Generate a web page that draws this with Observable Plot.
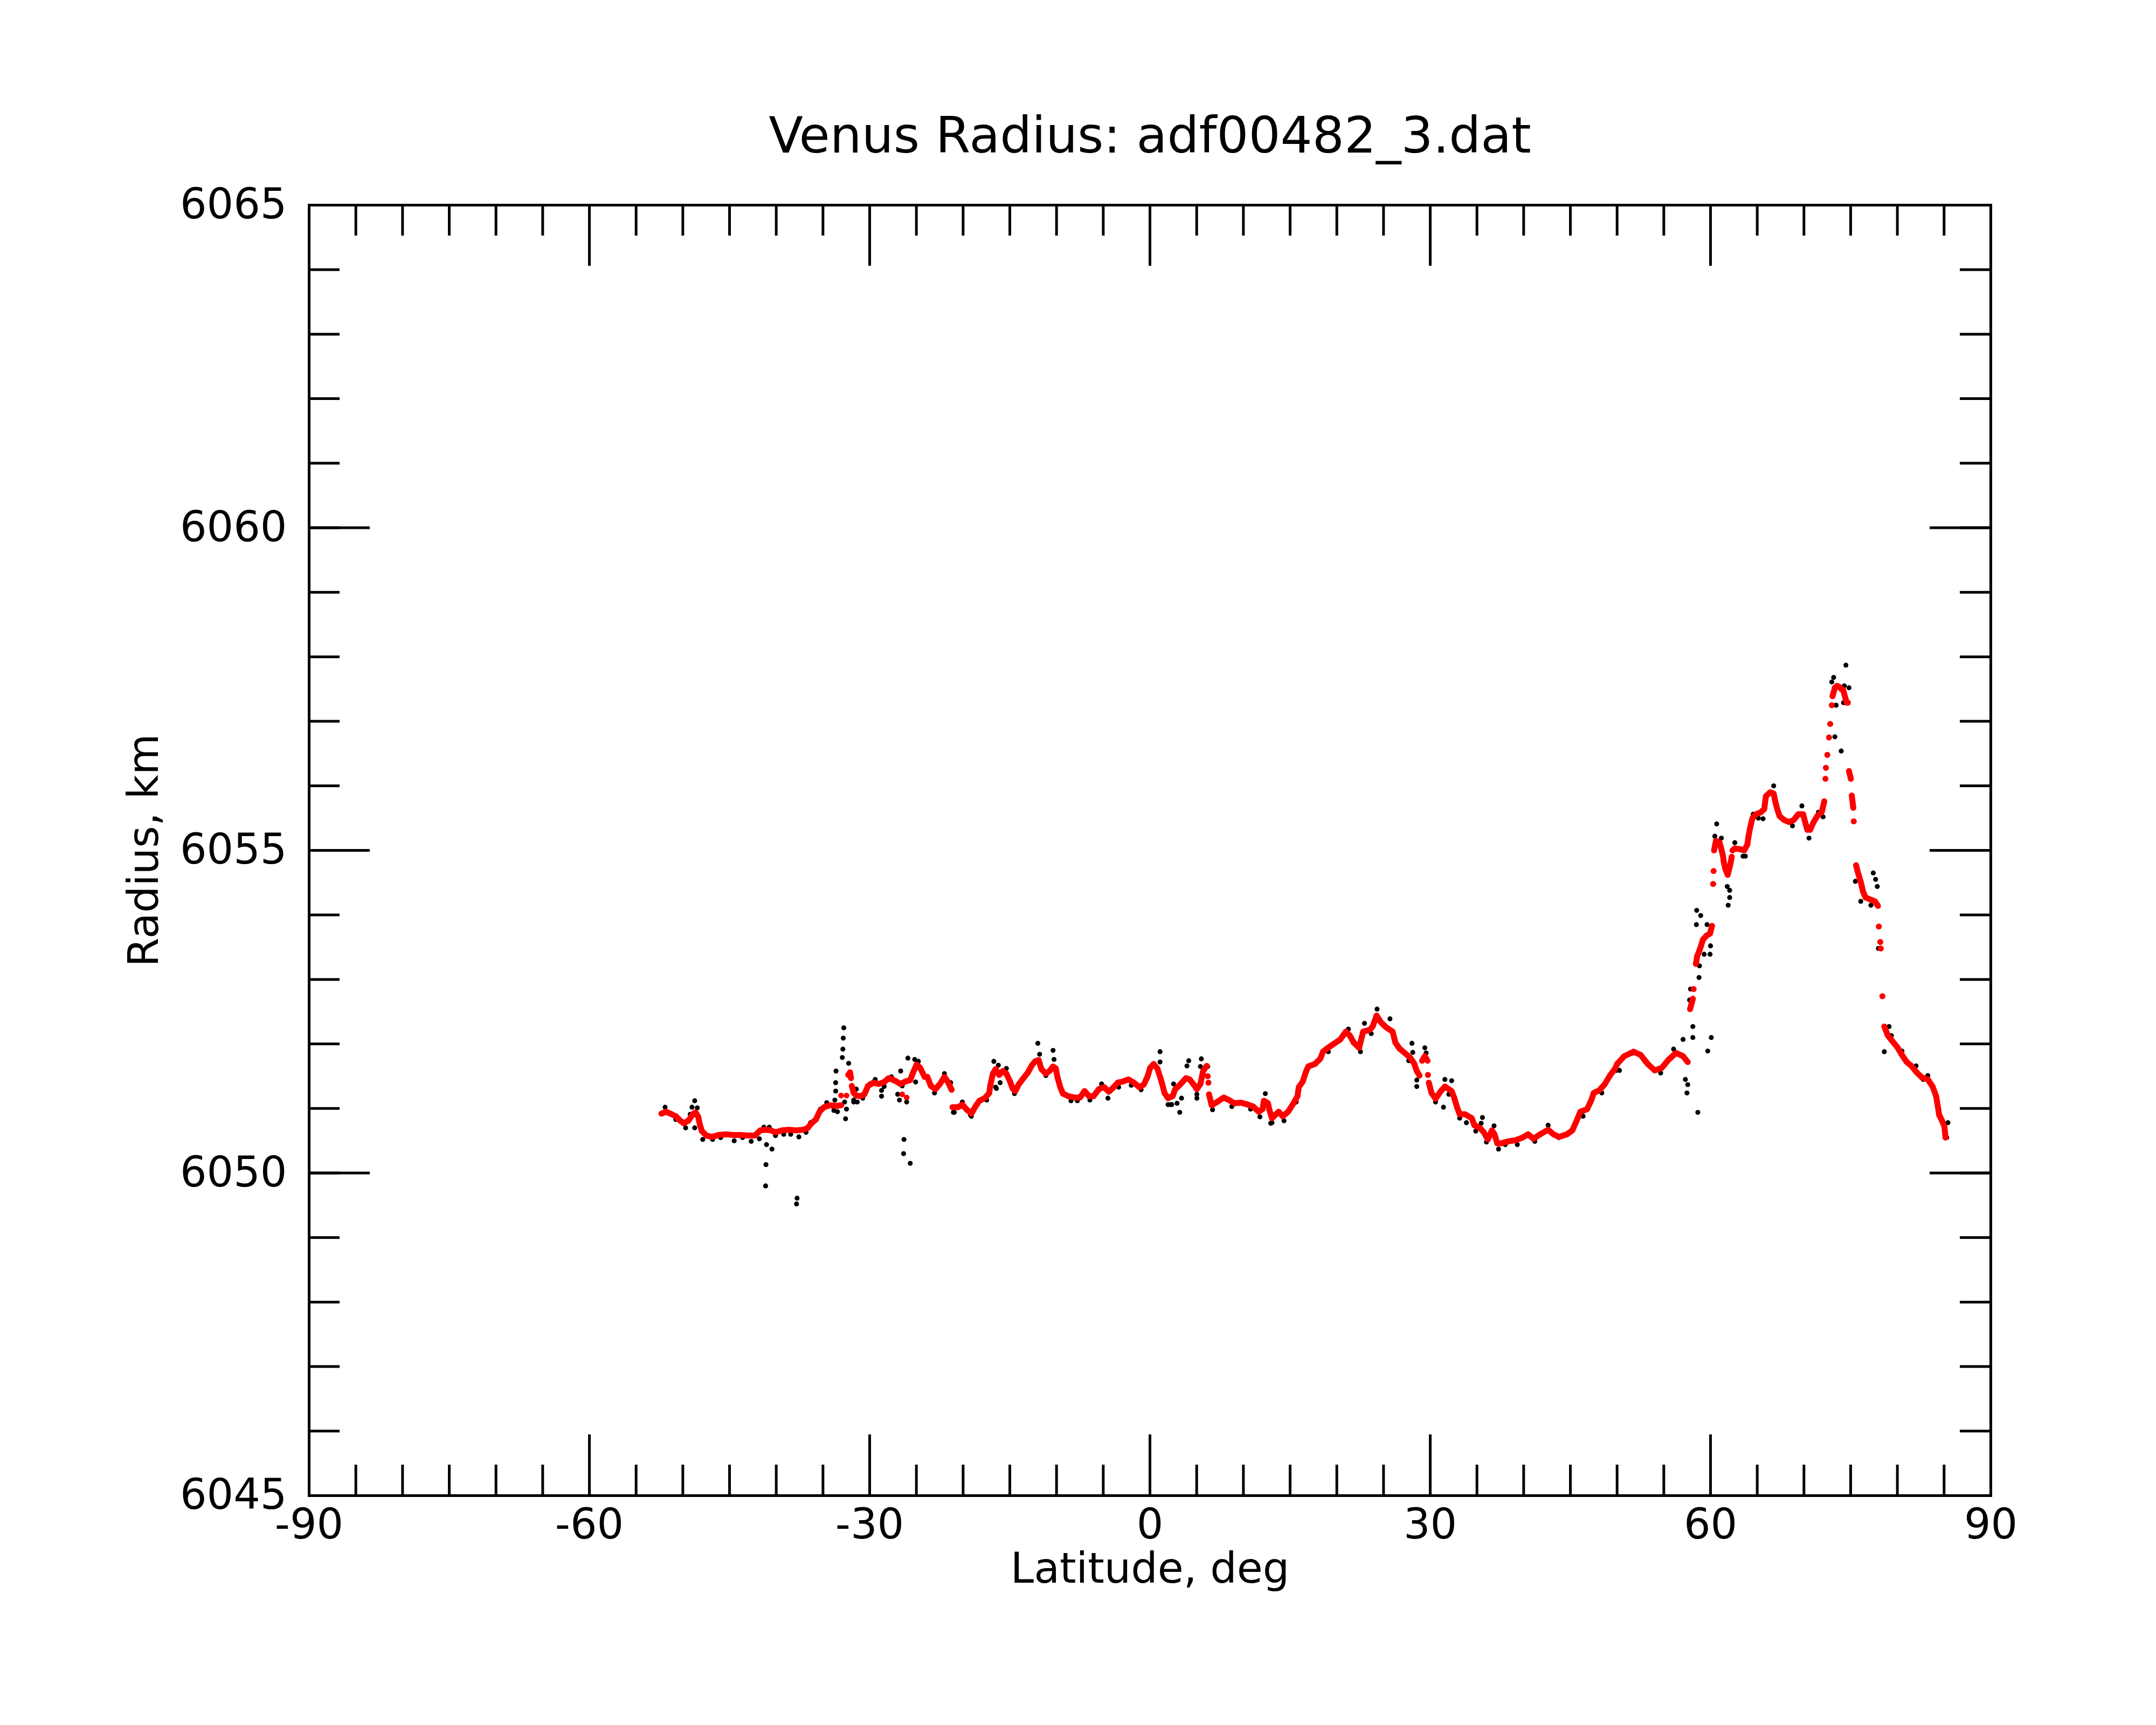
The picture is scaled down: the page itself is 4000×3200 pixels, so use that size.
<!DOCTYPE html>
<html>
<head>
<meta charset="utf-8">
<script src="https://cdn.jsdelivr.net/npm/d3@7"></script>
<script src="https://cdn.jsdelivr.net/npm/@observablehq/plot@0.6"></script>
<style>
  html, body { margin: 0; padding: 0; background: #ffffff; }
  #chart svg { display: block; }
</style>
</head>
<body>
<div id="chart"></div>
<script>
// ---------- texts & ticks ----------
const titleText = "Venus Radius: adf00482_3.dat";
const xLabelText = "Latitude, deg";
const yLabelText = "Radius, km";
const xDomain = [-90, 90];
const yDomain = [6045, 6065];
const xMajorTicks = [-90, -60, -30, 0, 30, 60, 90];
const yMajorTicks = [6045, 6050, 6055, 6060, 6065];
const xMinorTicks = d3.range(-90, 91, 5);
const yMinorTicks = d3.range(6045, 6066, 1);

// ---------- smoothed radius (red), [latitude deg, radius km] ----------
const smoothPoints = [
[-52.29,6050.92],[-51.81,6050.95],[-51.33,6050.92],[-50.75,6050.88],[-50.27,6050.81],[-49.89,6050.77],[-49.41,6050.81],[-48.93,6050.91],[-48.64,6050.94],[-48.35,6050.87],[-48.16,6050.74],[-47.96,6050.65],[-47.48,6050.58],[-46.91,6050.56],[-46.14,6050.59],[-45.37,6050.60],[-44.60,6050.59],[-43.83,6050.59],[-43.06,6050.58],[-42.29,6050.58],[-41.71,6050.66],[-41.14,6050.67],[-40.56,6050.66],[-40.08,6050.63],[-39.41,6050.66],[-38.64,6050.67],[-37.87,6050.66],[-37.10,6050.67],[-36.62,6050.70],[-36.23,6050.77],[-35.75,6050.83],[-35.37,6050.95],[-34.89,6051.02],[-34.21,6051.05],[-33.54,6051.04],[-33.06,6051.05],[-32.29,6051.52],[-32.10,6051.56],[-32.00,6051.47],[-31.91,6051.35],[-31.71,6051.24],[-31.43,6051.20],[-30.95,6051.19],[-30.56,6051.22],[-30.18,6051.35],[-29.60,6051.40],[-29.02,6051.38],[-28.45,6051.41],[-27.96,6051.47],[-27.29,6051.43],[-26.71,6051.38],[-26.14,6051.42],[-25.66,6051.44],[-25.37,6051.55],[-24.98,6051.68],[-24.60,6051.63],[-24.12,6051.49],
[-23.83,6051.49],[-23.45,6051.35],[-22.96,6051.30],[-22.48,6051.38],[-22.00,6051.49],[-21.62,6051.41],[-21.23,6051.29],[-21.14,6051.02],[-20.56,6051.02],[-20.08,6051.06],[-19.60,6050.98],[-19.12,6050.92],[-18.64,6051.04],[-18.25,6051.12],[-17.68,6051.16],[-17.20,6051.24],[-17.10,6051.35],[-16.81,6051.54],[-16.52,6051.61],[-16.14,6051.52],[-15.75,6051.58],[-15.37,6051.54],[-14.98,6051.42],[-14.70,6051.31],[-14.41,6051.27],[-14.02,6051.38],[-13.54,6051.47],[-13.06,6051.56],[-12.68,6051.66],[-12.29,6051.73],[-11.91,6051.75],[-11.62,6051.61],[-11.14,6051.54],[-10.75,6051.58],[-10.37,6051.65],[-10.08,6051.62],[-9.89,6051.48],[-9.60,6051.33],[-9.31,6051.23],[-8.73,6051.19],[-8.06,6051.17],[-7.48,6051.17],[-7.00,6051.27],[-6.52,6051.19],[-6.04,6051.19],[-5.47,6051.30],[-4.89,6051.33],[-4.41,6051.26],[-4.02,6051.31],[-3.45,6051.40],[-2.87,6051.42],[-2.29,6051.45],[-1.72,6051.40],[-1.14,6051.33],[-0.66,6051.37],[-0.27,6051.49],[0.02,6051.63],[0.40,6051.69],[0.79,6051.62],[1.08,6051.49],[1.27,6051.40],[1.56,6051.24],[1.94,6051.16],[2.42,6051.19],[2.71,6051.30],[3.09,6051.35],[3.48,6051.41],[3.86,6051.47],[4.25,6051.45],[4.63,6051.38],[5.02,6051.30],[5.40,6051.38],[5.69,6051.58],[6.07,6051.66],
[6.18,6051.50],[6.26,6051.40],[6.32,6051.22],[6.61,6051.05],[7.18,6051.10],[7.90,6051.17],[8.47,6051.13],[9.05,6051.08],[9.76,6051.09],[10.48,6051.06],[11.05,6051.03],[11.63,6050.95],[12.06,6050.99],[12.20,6051.12],[12.63,6051.08],[12.78,6050.98],[13.06,6050.85],[13.49,6050.91],[13.78,6050.95],[14.21,6050.88],[14.79,6050.95],[15.36,6051.08],[15.79,6051.19],[15.93,6051.33],[16.36,6051.42],[16.65,6051.55],[16.94,6051.65],[17.66,6051.69],[18.23,6051.77],[18.52,6051.88],[18.95,6051.93],[19.66,6052.00],[20.38,6052.07],[20.96,6052.19],[21.39,6052.13],[21.82,6052.02],[22.39,6051.94],[22.68,6052.11],[22.82,6052.19],[23.54,6052.22],[23.83,6052.27],[24.26,6052.44],[24.69,6052.34],[25.26,6052.26],[25.98,6052.19],[26.27,6052.02],[26.70,6051.93],[27.27,6051.86],[27.84,6051.79],[28.27,6051.70],[28.56,6051.58],[28.85,6051.51],[29.13,6051.74],[29.42,6051.81],[29.71,6051.74],[29.75,6051.52],[29.85,6051.40],[30.14,6051.24],[30.57,6051.15],[31.14,6051.27],[31.57,6051.34],[32.29,6051.27],[32.58,6051.16],[32.87,6051.02],[33.15,6050.91],[33.73,6050.91],[34.44,6050.85],[34.73,6050.74],[35.31,6050.70],[35.74,6050.63],[36.17,6050.52],[36.60,6050.66],[36.88,6050.60],[37.17,6050.46],[37.60,6050.46],[38.32,6050.49],[39.18,6050.51],[39.90,6050.55],[40.47,6050.60],[41.05,6050.53],[41.76,6050.60],[42.62,6050.67],[43.20,6050.60],[43.77,6050.56],[44.63,6050.60],[45.21,6050.66],[45.64,6050.80],[46.07,6050.95],[46.79,6050.99],[47.22,6051.12],[47.50,6051.24],[48.08,6051.28],[48.65,6051.37],[49.23,6051.51],[49.80,6051.62],
[50.00,6051.69],[50.76,6051.81],[51.76,6051.88],[52.52,6051.83],[53.28,6051.69],[54.03,6051.59],[54.79,6051.63],[55.54,6051.76],[56.30,6051.86],[57.06,6051.81],[57.56,6051.72],[57.81,6052.54],[58.11,6052.70],[58.19,6052.85],[58.44,6053.24],[58.57,6053.36],[58.82,6053.45],[59.20,6053.62],[59.58,6053.68],[59.95,6053.71],[60.16,6053.83],[60.28,6054.48],[60.33,6054.68],[60.38,6055.00],[60.58,6055.15],[60.96,6055.12],[61.09,6055.06],[61.34,6054.91],[61.42,6054.82],[61.59,6054.71],[61.84,6054.62],[62.10,6054.77],[62.27,6054.90],[62.35,6055.00],[62.60,6055.03],[63.10,6055.02],[63.61,6055.00],[63.94,6055.09],[64.06,6055.21],[64.24,6055.35],[64.49,6055.50],[64.87,6055.56],[65.37,6055.59],[65.75,6055.64],[65.93,6055.84],[66.38,6055.90],[66.76,6055.88],[66.93,6055.76],[67.14,6055.64],[67.39,6055.53],[67.89,6055.47],[68.40,6055.44],[68.90,6055.47],[69.40,6055.56],[69.91,6055.56],[70.16,6055.42],[70.36,6055.32],[70.66,6055.32],[71.04,6055.44],[71.42,6055.53],[71.92,6055.60],[72.18,6055.76],[72.30,6056.11],[72.35,6056.28],[72.50,6056.48],[72.68,6056.75],[72.81,6056.96],[72.98,6057.25],[73.06,6057.39],[73.31,6057.52],[73.56,6057.55],[73.81,6057.53],[74.00,6057.50],[74.19,6057.49],[74.57,6057.29],[74.70,6057.29],[74.82,6056.23],[75.02,6056.11],[75.12,6055.85],[75.28,6055.66],[75.33,6055.45],[75.58,6054.77],[75.75,6054.67],[76.08,6054.51],[76.33,6054.36],[76.59,6054.27],[77.09,6054.24],[77.59,6054.21],[77.92,6054.14],[78.02,6053.82],[78.17,6053.58],[78.22,6053.48],[78.40,6052.74],[78.60,6052.27],[78.98,6052.13],[79.48,6052.04],[79.99,6051.95],[80.49,6051.83],[81.00,6051.72],[81.50,6051.66],[82.00,6051.57],[82.63,6051.48],[83.26,6051.45],[83.77,6051.34],[84.15,6051.19],[84.32,6051.04],[84.47,6050.90],[84.78,6050.81],[85.03,6050.72],[85.10,6050.63],[85.15,6050.55]
];

// smoothed points lying off the main trace
const smoothExtraPoints = [[-33.06,6051.20],[-32.48,6051.20],[-26.52,6051.22],[-26.04,6051.17]];

// ---------- raw radius (black), [latitude deg, radius km] ----------
const rawPoints = [
[-51.90,6051.02],[-50.75,6050.83],[-49.70,6050.70],[-49.21,6050.91],[-49.02,6051.02],[-48.73,6051.12],[-48.73,6050.70],[-48.45,6051.01],[-47.87,6050.52],[-46.81,6050.52],[-45.95,6050.55],[-44.50,6050.50],[-43.60,6050.55],[-42.68,6050.49],[-41.81,6050.53],[-41.33,6050.71],[-41.04,6050.44],[-41.10,6050.13],[-41.14,6049.80],[-40.75,6050.71],[-40.46,6050.37],[-40.08,6050.58],[-39.20,6050.60],[-38.45,6050.60],[-37.83,6049.52],[-37.77,6049.61],[-37.58,6050.56],[-36.81,6050.63],[-36.33,6050.78],[-35.27,6050.99],[-34.60,6051.09],[-33.83,6050.97],[-33.83,6051.02],[-33.73,6051.13],[-33.64,6051.27],[-33.64,6051.40],[-33.60,6051.58],[-33.45,6050.95],[-32.93,6051.79],[-32.87,6051.92],[-32.83,6052.09],[-32.77,6052.25],[-32.68,6051.10],[-32.58,6050.84],[-32.48,6050.99],[-32.25,6051.70],[-31.71,6051.10],[-31.71,6051.13],[-31.43,6051.30],[-31.33,6051.10],[-30.75,6051.16],[-29.98,6051.38],[-29.41,6051.45],[-28.73,6051.19],[-28.73,6051.28],[-28.45,6051.34],[-27.67,6051.49],[-27.00,6051.22],[-26.81,6051.13],[-26.68,6051.58],[-26.52,6051.35],[-26.37,6050.30],[-26.33,6050.52],[-26.04,6051.10],[-25.91,6051.78],[-25.66,6050.15],[-25.18,6051.76],[-25.08,6051.41],[-24.79,6051.73],
[-23.06,6051.24],[-22.00,6051.54],[-21.33,6051.40],[-21.04,6050.94],[-20.95,6050.94],[-20.08,6051.10],[-19.22,6050.90],[-19.12,6050.88],[-17.48,6051.13],[-16.71,6051.73],[-16.52,6051.33],[-16.43,6051.31],[-16.23,6051.67],[-16.04,6051.40],[-15.37,6051.62],[-14.50,6051.23],[-12.00,6052.01],[-11.81,6051.84],[-11.14,6051.51],[-10.37,6051.90],[-10.27,6051.76],[-8.45,6051.12],[-7.77,6051.12],[-6.43,6051.13],[-5.18,6051.38],[-4.50,6051.16],[-3.35,6051.33],[-2.00,6051.36],[-0.95,6051.29],[1.08,6051.88],[1.08,6051.72],[1.94,6051.06],[2.23,6051.06],[2.33,6051.06],[2.52,6051.38],[2.90,6051.08],[3.19,6050.94],[3.38,6051.16],[3.96,6051.66],[4.15,6051.74],[5.02,6051.16],[5.02,6051.22],[5.40,6051.65],[5.50,6051.77],
[6.18,6051.65],[6.70,6050.98],[8.76,6051.03],[10.77,6050.99],[11.77,6050.87],[12.35,6051.23],[12.92,6050.77],[13.06,6050.78],[14.35,6050.81],[15.65,6051.10],[19.09,6051.88],[21.24,6052.23],[22.53,6051.88],[22.96,6052.32],[23.68,6052.16],[24.31,6052.54],[25.41,6052.25],[25.69,6052.39],[27.70,6051.74],[28.04,6052.01],[28.13,6051.87],[28.56,6051.44],[28.56,6051.34],[29.42,6051.94],[29.56,6051.86],[30.57,6051.10],[31.42,6051.02],[31.57,6051.45],[31.99,6051.22],[32.29,6051.43],[33.15,6050.85],[33.87,6050.78],[34.87,6050.65],[35.45,6050.77],[35.59,6050.86],[36.02,6050.48],[36.83,6050.73],[37.31,6050.37],[38.03,6050.44],[39.32,6050.44],[41.19,6050.49],[42.62,6050.74],[43.77,6050.55],[46.36,6050.88],[48.36,6051.24],[49.90,6051.59],
[50.25,6051.59],[51.50,6051.85],[54.66,6051.55],[56.05,6051.92],[57.06,6052.07],[57.31,6051.45],[57.48,6051.24],[57.56,6051.37],[57.76,6052.68],[57.86,6052.85],[58.11,6052.27],[58.11,6052.10],[58.49,6053.85],[58.52,6054.07],[58.64,6050.94],[58.77,6053.03],[58.82,6053.21],[58.95,6053.99],[59.32,6053.39],[59.63,6053.85],[59.70,6051.89],[59.95,6053.39],[60.00,6053.52],[60.08,6052.10],[60.46,6055.22],[60.66,6055.41],[61.16,6055.19],[61.79,6054.44],[61.89,6054.15],[62.05,6054.38],[62.05,6054.27],[62.60,6055.12],[63.48,6054.91],[63.73,6054.91],[64.57,6055.56],[65.12,6055.50],[65.62,6055.49],[66.76,6056.00],[68.77,6055.38],[69.78,6055.69],[70.54,6055.19],[71.55,6055.59],[72.05,6055.52],[72.98,6057.61],[73.18,6057.68],[73.31,6056.76],[73.44,6057.25],[73.99,6056.54],[74.24,6057.29],[74.32,6057.55],[74.49,6057.87],[74.82,6057.52],[75.50,6054.52],[76.08,6054.21],[77.17,6054.15],[77.42,6054.65],[77.67,6054.55],[77.85,6054.44],[77.97,6053.48],[78.60,6051.88],[79.11,6052.27],[79.36,6052.13],[80.49,6051.89],[82.00,6051.66],[82.76,6051.45],[83.26,6051.51],[85.28,6050.55],[85.41,6050.78]
];

// ---------- build tables ----------
// the smoothed samples are joined only where they run continuously;
// across jumps and steep stretches they stay as separate dots
let segId = 0;
const smooth = smoothPoints.map(([lat, r], i) => {
  if (i > 0) {
    const [pl, pr] = smoothPoints[i - 1];
    const dr = Math.abs(r - pr), dl = lat - pl;
    if (dr > 0.2 || dl > 1.3 || (dr > 0.1 && dr / dl > 1.2)) segId++;
  }
  return {lat, r, seg: segId};
});
const smoothExtra = smoothExtraPoints.map(([lat, r]) => ({lat, r}));
const raw = rawPoints.map(([lat, r]) => ({lat, r}));

// ---------- layout ----------
const W = 4000, H = 3200;
const mL = 573, mR = 307, mT = 380, mB = 426;
const plotW = W - mL - mR;
const plotH = H - mT - mB;
const minorLen = 57, majorLen = 113, lw = 5;
const tickFont = 78;

const chart = Plot.plot({
  width: W,
  height: H,
  marginLeft: mL,
  marginRight: mR,
  marginTop: mT,
  marginBottom: mB,
  x: {domain: xDomain},
  y: {domain: yDomain},
  style: {fontFamily: "DejaVu Sans", background: "#ffffff", color: "#000000"},
  marks: [
    // raw data
    Plot.dot(raw, {x: "lat", y: "r", r: 4.6, fill: "#000000", stroke: "none"}),
    // smoothed data
    Plot.line(smooth, {x: "lat", y: "r", z: "seg", stroke: "#ff0000", strokeWidth: 11, strokeLinecap: "round", strokeLinejoin: "round"}),
    Plot.dot(smooth, {x: "lat", y: "r", r: 5.3, fill: "#ff0000", stroke: "none"}),
    Plot.dot(smoothExtra, {x: "lat", y: "r", r: 5.3, fill: "#ff0000", stroke: "none"}),

    // inward ticks, bottom/top
    Plot.ruleX(xMinorTicks, {x: d => d, insetTop: plotH - minorLen, stroke: "#000", strokeWidth: lw}),
    Plot.ruleX(xMinorTicks, {x: d => d, insetBottom: plotH - minorLen, stroke: "#000", strokeWidth: lw}),
    Plot.ruleX(xMajorTicks, {x: d => d, insetTop: plotH - majorLen, stroke: "#000", strokeWidth: lw}),
    Plot.ruleX(xMajorTicks, {x: d => d, insetBottom: plotH - majorLen, stroke: "#000", strokeWidth: lw}),
    // inward ticks, left/right
    Plot.ruleY(yMinorTicks, {y: d => d, insetRight: plotW - minorLen, stroke: "#000", strokeWidth: lw}),
    Plot.ruleY(yMinorTicks, {y: d => d, insetLeft: plotW - minorLen, stroke: "#000", strokeWidth: lw}),
    Plot.ruleY(yMajorTicks, {y: d => d, insetRight: plotW - majorLen, stroke: "#000", strokeWidth: lw}),
    Plot.ruleY(yMajorTicks, {y: d => d, insetLeft: plotW - majorLen, stroke: "#000", strokeWidth: lw}),
    Plot.frame({stroke: "#000", strokeWidth: lw}),

    // tick labels
    Plot.axisX(xMajorTicks, {anchor: "bottom", tickSize: 0, tickPadding: 24, fontSize: tickFont, tickFormat: d => String(d), label: null}),
    Plot.axisY(yMajorTicks, {anchor: "left", tickSize: 0, tickPadding: 41, fontSize: tickFont, tickFormat: d => String(d), label: null}),

    // title and axis labels
    Plot.text([titleText], {text: d => d, frameAnchor: "top", dy: -98, textAnchor: "middle", lineAnchor: "bottom", fontSize: 93, fill: "#000"}),
    Plot.text([xLabelText], {text: d => d, frameAnchor: "bottom", dy: 161, textAnchor: "middle", lineAnchor: "bottom", fontSize: tickFont, fill: "#000"}),
    Plot.text([yLabelText], {text: d => d, frameAnchor: "left", dx: -281, rotate: -90, textAnchor: "middle", lineAnchor: "bottom", fontSize: tickFont, fill: "#000"})
  ]
});

document.getElementById("chart").appendChild(chart);
</script>
</body>
</html>
